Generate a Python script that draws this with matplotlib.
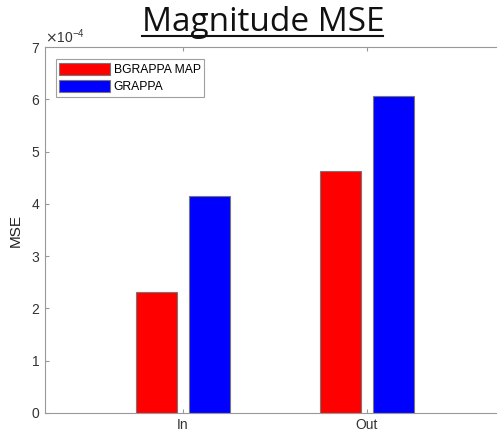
import numpy as np
import matplotlib.pyplot as plt
from matplotlib.ticker import ScalarFormatter

# data
categories = ['In', 'Out']
bgrappa_map = [2.31e-4, 4.64e-4]
grappa = [4.16e-4, 6.07e-4]
series_names = ['BGRAPPA MAP', 'GRAPPA']

plt.rcParams['font.family'] = ['Liberation Sans', 'DejaVu Sans']

fig = plt.figure(figsize=(4.99, 4.36), dpi=100)
ax_w = 0.994 - 0.0902
ax = fig.add_axes([0.0902, 0.0528, ax_w, 0.839])

x = np.arange(1, len(categories) + 1)
w = 0.228
off = 0.144
ax.bar(x - off, bgrappa_map, w, color='#ff0000', edgecolor='#777777', linewidth=0.8, label=series_names[0])
ax.bar(x + off, grappa, w, color='#0000ff', edgecolor='#777777', linewidth=0.8, label=series_names[1])

# 184 px between categories
ax.set_xlim(0.25, 0.25 + ax_w * 499 / 184)
ax.set_ylim(0, 7e-4)
ax.set_xticks(x)
ax.set_xticklabels(categories)
ax.set_yticks(np.arange(0, 8) * 1e-4)

fmt = ScalarFormatter(useMathText=True)
fmt.set_powerlimits((-3, 3))
ax.yaxis.set_major_formatter(fmt)
ax.yaxis.get_offset_text().set_fontsize(10)
ax.yaxis.get_offset_text().set_color('#444444')

for s in ['left', 'bottom', 'top']:
    ax.spines[s].set_color('#999999')
ax.spines['right'].set_visible(False)
ax.tick_params(direction='in', length=3, width=0.8, colors='#999999',
               labelcolor='#333333', labelsize=10, top=True, right=False)
ax.set_ylabel('MSE', fontsize=11, color='#222222', labelpad=6)

leg = ax.legend(loc='upper left', bbox_to_anchor=(0.024, 0.967), fontsize=8.7,
                frameon=True, fancybox=False, handlelength=4.2, handleheight=1.2,
                borderpad=0.3, labelspacing=0.3, handletextpad=0.3, borderaxespad=0)
leg.get_frame().set_edgecolor('#888888')
leg.get_frame().set_linewidth(0.8)

fig.text(0.527, 0.928, 'Magnitude MSE', ha='center', va='baseline',
         fontsize=24, family='Open Sans', color='#111111')
fig.add_artist(plt.Line2D([0.285, 0.768], [0.917, 0.917], color='#111111', linewidth=1.5))

fig.savefig('out.png', dpi=100)
